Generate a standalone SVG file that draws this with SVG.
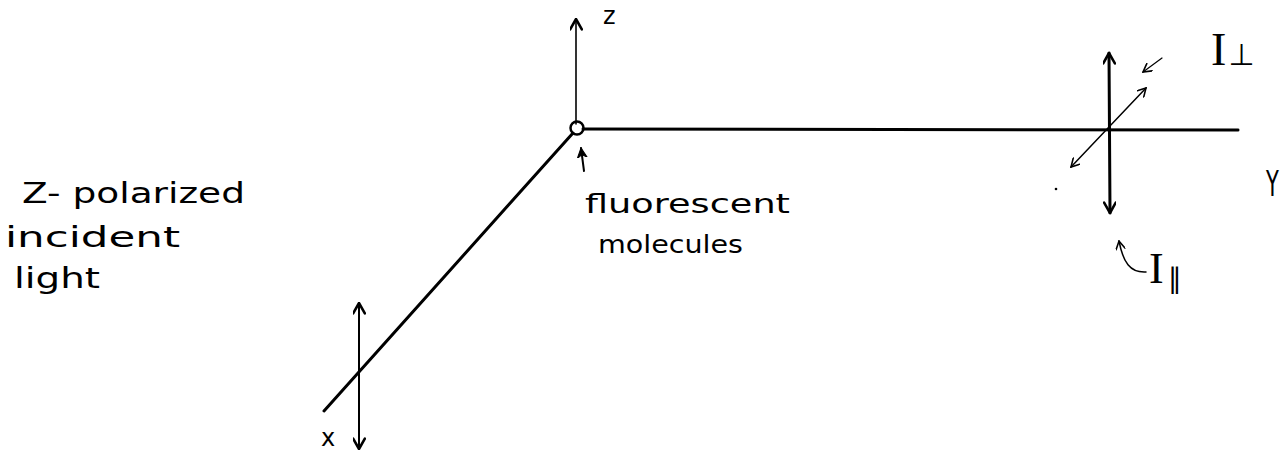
<svg xmlns="http://www.w3.org/2000/svg" width="1282" height="462" viewBox="0 0 1282 462">
<style>
.ax{stroke:#000;stroke-width:3;fill:none;stroke-linecap:round}
.ar{stroke:#000;fill:none;stroke-linecap:round}
.hand{font-family:"DejaVu Sans","Liberation Sans",sans-serif;fill:#000}
.ser{font-family:"Liberation Serif","DejaVu Serif",serif;fill:#000}
</style>
<defs>
<marker id="v" viewBox="0 0 10 10" refX="9" refY="5" markerWidth="10" markerHeight="10" markerUnits="userSpaceOnUse" orient="auto-start-reverse">
<path d="M1,0.5 L9,5 L1,9.5" fill="none" stroke="#000" stroke-width="1.6" stroke-linecap="round"/>
</marker>
<marker id="vb" viewBox="0 0 10 10" refX="9" refY="5" markerWidth="13" markerHeight="13" markerUnits="userSpaceOnUse" orient="auto-start-reverse">
<path d="M1,0.5 L9,5 L1,9.5" fill="none" stroke="#000" stroke-width="2" stroke-linecap="round"/>
</marker>
<marker id="f" viewBox="0 0 10 10" refX="9" refY="5" markerWidth="11" markerHeight="11" markerUnits="userSpaceOnUse" orient="auto">
<path d="M0,0.5 L9,5 L0,9.5 L3,5 Z" fill="#000" stroke="#000" stroke-width="1"/>
</marker>
</defs>

<g id="connectors">
<line id="z-axis" x1="576" y1="124" x2="576" y2="19" class="ar" stroke-width="1.6" marker-end="url(#vb)"/>
<line id="y-axis" x1="583" y1="129" x2="1238" y2="130" class="ax"/>
<line id="x-axis" x1="573" y1="133" x2="324" y2="411" class="ax"/>
<line id="incident-pol" x1="359" y1="303" x2="359" y2="449" class="ar" stroke-width="2" marker-start="url(#vb)" marker-end="url(#vb)"/>
<line id="I-par-arrow" x1="1109" y1="53" x2="1110" y2="213" class="ar" stroke-width="3" marker-start="url(#vb)" marker-end="url(#vb)"/>
<line id="I-perp-arrow" x1="1071" y1="167" x2="1146" y2="88" class="ar" stroke-width="1.5" marker-start="url(#v)" marker-end="url(#v)"/>
<line id="I-perp-pointer" x1="1162" y1="58" x2="1143" y2="72" class="ar" stroke-width="1.2" marker-end="url(#v)"/>
<line id="mol-pointer" x1="584" y1="171" x2="581" y2="148" class="ar" stroke-width="2" marker-end="url(#f)"/>
<path id="I-par-pointer" d="M1146,272 C1130,273 1123,262 1119,241" class="ar" stroke-width="1.5" marker-end="url(#v)"/>
</g>

<g id="sample">
<circle cx="577" cy="128" r="6.5" fill="none" stroke="#000" stroke-width="2.5"/>
</g>

<g id="labels">
<text class="hand" x="603" y="24" font-size="24">z</text>
<text class="hand" x="321" y="446" font-size="24">x</text>
<text class="hand" transform="translate(1266,196) scale(1,1.7)" font-size="21">Y</text>
<text class="hand" x="22" y="203" font-size="28" textLength="223" lengthAdjust="spacingAndGlyphs">Z- polarized</text>
<text class="hand" x="5" y="247" font-size="28" textLength="175" lengthAdjust="spacingAndGlyphs">incident</text>
<text class="hand" x="14" y="288" font-size="28" textLength="86" lengthAdjust="spacingAndGlyphs">light</text>
<text class="hand" x="585" y="213" font-size="26" textLength="205" lengthAdjust="spacingAndGlyphs">fluorescent</text>
<text class="hand" x="598" y="253" font-size="24" textLength="145" lengthAdjust="spacingAndGlyphs">molecules</text>
<text class="ser" x="1211" y="65" font-size="46">I<tspan font-size="30" dx="2" font-family="DejaVu Sans, sans-serif">⊥</tspan></text>
<text class="ser" x="1149" y="283" font-size="44">I<tspan font-size="28" dx="4" dy="5" font-family="DejaVu Sans, sans-serif">∥</tspan></text>
<circle cx="1056" cy="189" r="1.3" fill="#000"/>
</g>
</svg>
